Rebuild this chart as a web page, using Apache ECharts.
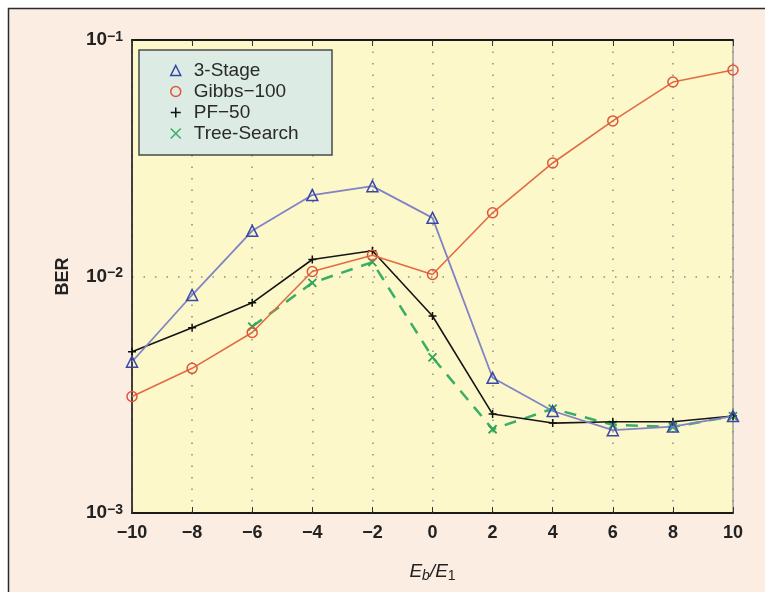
<!DOCTYPE html>
<html>
<head>
<meta charset="utf-8">
<script src="https://cdn.jsdelivr.net/npm/echarts@6/dist/echarts.min.js"></script>
<style>html,body{margin:0;padding:0;background:#fff}#c{width:765px;height:592px}</style>
</head>
<body>
<div id="c"></div>
<script>
const ebOverE1 = [-10, -8, -6, -4, -2, 0, 2, 4, 6, 8, 10];
const stage3 = [0.00436, 0.00835, 0.0156, 0.0221, 0.0241, 0.0177, 0.00373, 0.0027, 0.00224, 0.00232, 0.00257];
const gibbs100 = [0.00311, 0.00409, 0.0058, 0.0105, 0.0123, 0.0102, 0.0186, 0.0302, 0.0455, 0.0664, 0.0747];
const pf50 = [0.00481, 0.00607, 0.00774, 0.0118, 0.01285, 0.00681, 0.00262, 0.0024, 0.00243, 0.00243, 0.00257];
const treeSearch = [null, null, 0.00614, 0.0094, 0.0115, 0.00455, 0.00226, 0.00276, 0.00236, 0.00231, 0.00257];
const seriesNames = ['3-Stage', 'Gibbs\u2212100', 'PF\u221250', 'Tree-Search'];
const yTicks = [0.001, 0.01, 0.1];

const PLUS = 'path://M0,5L10,5M5,0L5,10';
const CROSS = 'path://M0,0L10,10M10,0L0,10';

function pairs(arr) { return ebOverE1.map((x, i) => [x, arr[i]]); }

const chart = echarts.init(document.getElementById('c'), null, {renderer: 'canvas'});
const axisFont = 'Liberation Sans';
chart.setOption({
  backgroundColor: '#fcede2',
  animation: false,
  textStyle: {fontFamily: axisFont},
  graphic: [
    {type: 'rect', z: 100, shape: {x: 0, y: 0, width: 765, height: 8}, style: {fill: '#ffffff'}},
    {type: 'rect', z: 100, shape: {x: 0, y: 0, width: 8, height: 592}, style: {fill: '#ffffff'}},
    {type: 'polyline', z: 100, shape: {points: [[8.5, 600], [8.5, 8.5], [770, 8.5]]}, style: {stroke: '#2a2a2a', lineWidth: 1.5, fill: null}},
    {type: 'rect', z: 3, shape: {x: 139, y: 50, width: 193, height: 105}, style: {fill: '#dcebe3', stroke: '#4a4a4a', lineWidth: 1.5}}
  ],
  grid: {left: 132, top: 40, right: 32, bottom: 79, show: true, backgroundColor: '#fdf8c9', borderColor: '#777', borderWidth: 1},
  legend: {
    orient: 'vertical', left: 170, top: 61, padding: 0,
    itemWidth: 10, itemHeight: 10, itemGap: 2,
    textStyle: {fontSize: 19, color: '#2a2a2a', fontFamily: axisFont, padding: [0, 0, 0, 8]},
    data: [
      {name: seriesNames[0], icon: 'triangle', itemStyle: {color: 'transparent', borderColor: '#3545a5', borderWidth: 1.5}},
      {name: seriesNames[1], icon: 'circle', itemStyle: {color: 'transparent', borderColor: '#e0553a', borderWidth: 1.5}},
      {name: seriesNames[2], icon: PLUS, itemStyle: {color: 'transparent', borderColor: '#111', borderWidth: 1.5}},
      {name: seriesNames[3], icon: CROSS, itemStyle: {color: 'transparent', borderColor: '#3aae64', borderWidth: 1.5}}
    ]
  },
  xAxis: [{
    type: 'value', min: -10, max: 10, interval: 2, position: 'bottom',
    name: '{i|E}{sb|b}{i|/E}{s1|1}', nameLocation: 'middle', nameGap: 48,
    nameTextStyle: {rich: {
      i: {fontSize: 19, fontStyle: 'italic', color: '#222', fontFamily: axisFont},
      sb: {fontSize: 14, fontStyle: 'italic', color: '#222', fontFamily: axisFont, padding: [8, 0, 0, 0]},
      s1: {fontSize: 14, color: '#222', fontFamily: axisFont, padding: [8, 0, 0, 0]}
    }},
    axisLine: {show: true, onZero: false, lineStyle: {color: '#1a1a1a', width: 2}},
    axisTick: {show: true, inside: true, length: 6, lineStyle: {color: '#333', width: 1}},
    axisLabel: {margin: 11, fontSize: 18, fontWeight: 'bold', color: '#222', fontFamily: axisFont,
      formatter: v => String(v).replace('-', '\u2212')},
    splitLine: {show: true, lineStyle: {type: [1.5, 10], color: '#8c8c8c', width: 1.5}}
  }, {
    type: 'value', min: -10, max: 10, interval: 2, position: 'top',
    axisLine: {show: true, onZero: false, lineStyle: {color: '#1a1a1a', width: 2}},
    axisTick: {show: true, inside: true, length: 6, lineStyle: {color: '#333', width: 1}},
    axisLabel: {show: false}, splitLine: {show: false}
  }],
  yAxis: {
    type: 'log', logBase: 10, min: yTicks[0], max: yTicks[yTicks.length - 1],
    name: 'BER', nameLocation: 'middle', nameGap: 60, nameRotate: 90,
    nameTextStyle: {fontSize: 18, fontWeight: 'bold', color: '#222', fontFamily: axisFont},
    axisLine: {show: true, onZero: false, lineStyle: {color: '#1a1a1a', width: 1.5}},
    axisTick: {show: false},
    minorTick: {show: false},
    axisLabel: {margin: 9, color: '#222', fontFamily: axisFont,
      formatter: v => '{b|10}{s|\u2212' + Math.round(-Math.log10(v)) + '}',
      rich: {
        b: {fontSize: 19, fontWeight: 'bold', color: '#222', fontFamily: axisFont},
        s: {fontSize: 14, fontWeight: 'bold', color: '#222', fontFamily: axisFont, padding: [0, 0, 6, 0]}
      }},
    splitLine: {show: true, lineStyle: {type: [1.5, 10], color: '#8c8c8c', width: 1.5}}
  },
  series: [
    {name: seriesNames[3], type: 'line', data: pairs(treeSearch), z: 2,
      symbol: CROSS, symbolSize: 8,
      lineStyle: {color: '#3aae64', width: 2.5, type: [12, 9]},
      itemStyle: {color: 'transparent', borderColor: '#2ea55a', borderWidth: 1.8}},
    {name: seriesNames[2], type: 'line', data: pairs(pf50), z: 3,
      symbol: PLUS, symbolSize: 8,
      lineStyle: {color: '#161616', width: 1.6},
      itemStyle: {color: 'transparent', borderColor: '#111', borderWidth: 1.5}},
    {name: seriesNames[1], type: 'line', data: pairs(gibbs100), z: 4,
      symbol: 'circle', symbolSize: 10,
      lineStyle: {color: '#e26a45', width: 1.6},
      itemStyle: {color: 'transparent', borderColor: '#e0553a', borderWidth: 1.5}},
    {name: seriesNames[0], type: 'line', data: pairs(stage3), z: 5,
      symbol: 'triangle', symbolSize: 11,
      lineStyle: {color: '#8282c6', width: 1.8},
      itemStyle: {color: 'transparent', borderColor: '#3848a8', borderWidth: 1.5}}
  ]
});
</script>
</body>
</html>
